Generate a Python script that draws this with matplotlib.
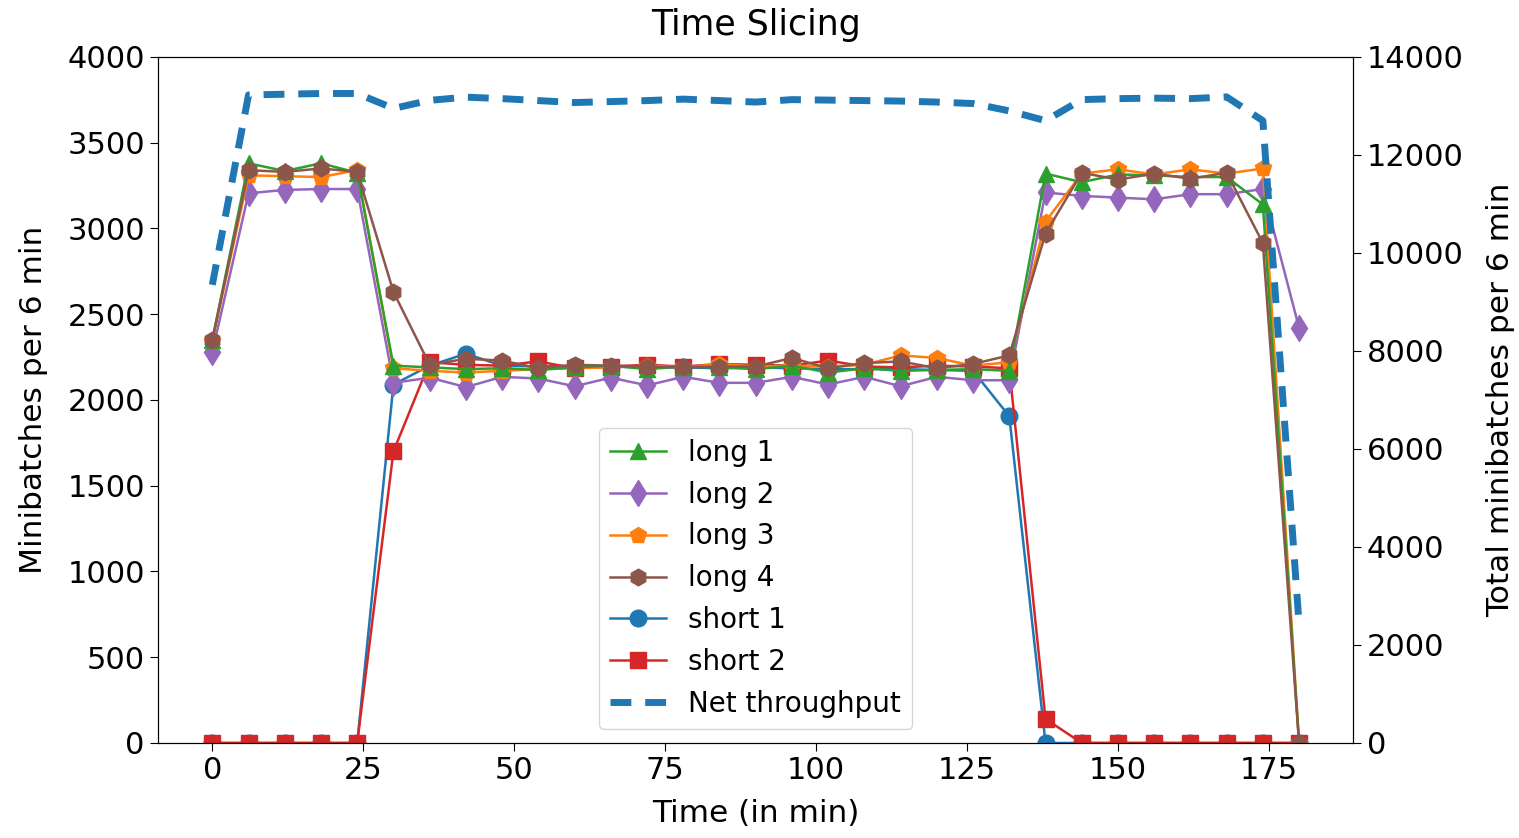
import numpy as np
import matplotlib
matplotlib.use("Agg")
import matplotlib.pyplot as plt

# time stamps (minutes), one sample every 6 min
time_min = list(range(0, 181, 6))

long1 = [2350, 3380, 3335, 3380, 3325, 2200,
         2190, 2180, 2185, 2175, 2190, 2200, 2180, 2195, 2190, 2180, 2200, 2160, 2185, 2170, 2175, 2180, 2170,
         3320, 3270, 3315, 3310, 3300, 3300, 3140, 0]
long2 = [2280, 3205, 3225, 3230, 3230, 2100,
         2130, 2075, 2135, 2125, 2080, 2130, 2085, 2135, 2100, 2100, 2135, 2090, 2135, 2080, 2135, 2115, 2115,
         3210, 3190, 3180, 3170, 3200, 3200, 3230, 2420]
long3 = [2345, 3310, 3305, 3300, 3340, 2185,
         2170, 2160, 2170, 2180, 2185, 2190, 2200, 2190, 2210, 2195, 2200, 2195, 2205, 2260, 2245, 2200, 2220,
         3040, 3320, 3345, 3315, 3345, 3320, 3350, 0]
long4 = [2350, 3340, 3330, 3350, 3330, 2630,
         2205, 2240, 2230, 2185, 2205, 2200, 2195, 2190, 2195, 2195, 2245, 2185, 2215, 2225, 2185, 2210, 2260,
         2970, 3325, 3285, 3320, 3290, 3325, 2915, 0]
short1 = [0, 0, 0, 0, 0, 2090,
          2200, 2270, 2200, 2195, 2200, 2195, 2190, 2190, 2185, 2190, 2185, 2180, 2180, 2180, 2175, 2170, 1905,
          0, 0, 0, 0, 0, 0, 0, 0]
short2 = [0, 0, 0, 0, 0, 1700,
          2220, 2205, 2200, 2225, 2185, 2195, 2205, 2195, 2210, 2205, 2200, 2230, 2195, 2190, 2200, 2195, 2185,
          140, 0, 0, 0, 0, 0, 0, 0]
net_throughput = [9350, 13225, 13240, 13255, 13255, 12950,
                  13115, 13180, 13150, 13110, 13070, 13090, 13110, 13140, 13110, 13080, 13130, 13120, 13110,
                  13100, 13080, 13050, 12900,
                  12700, 13130, 13150, 13160, 13150, 13185, 12700, 2420]

plt.rcParams["font.family"] = ["DejaVu Sans"]

fig = plt.figure(figsize=(15.19, 8.38), dpi=100)
ax = fig.add_axes([0.104, 0.1134, 0.787, 0.8186])
ax2 = ax.twinx()

lw = 1.8
ms = 12
h_s1, = ax.plot(time_min, short1, color="tab:blue", marker="o", lw=lw, ms=ms, label="short 1")
h_s2, = ax.plot(time_min, short2, color="tab:red", marker="s", lw=lw, ms=ms, label="short 2")
h_l2, = ax.plot(time_min, long2, color="tab:purple", marker="d", lw=lw, ms=ms + 1, label="long 2")
h_l3, = ax.plot(time_min, long3, color="tab:orange", marker="p", lw=lw, ms=ms, label="long 3")
h_l1, = ax.plot(time_min, long1, color="tab:green", marker="^", lw=lw, ms=ms, label="long 1")
h_l4, = ax.plot(time_min, long4, color="tab:brown", marker="h", lw=lw, ms=ms, label="long 4")

h_net, = ax2.plot(time_min, net_throughput, color="tab:blue", linestyle="--", dashes=(3.0, 2.0),
                  lw=5, label="Net throughput")

ax.set_ylim(0, 4000)
ax2.set_ylim(0, 14000)
ax.set_xlim(-9, 189)
ax.set_xticks([0, 25, 50, 75, 100, 125, 150, 175])

fs = 22
ax.tick_params(labelsize=fs, length=6)
ax2.tick_params(labelsize=fs, length=6)
ax.set_xlabel("Time (in min)", fontsize=22.5, labelpad=10)
ax.set_ylabel("Minibatches per 6 min", fontsize=22.5, labelpad=14)
ax2.set_ylabel("Total minibatches per 6 min", fontsize=22.5, labelpad=16)
ax.set_title("Time Slicing", fontsize=25, pad=16)

ax2.legend(handles=[h_l1, h_l2, h_l3, h_l4, h_s1, h_s2, h_net],
           loc="lower center", fontsize=20)

fig.savefig("out.png", dpi=100)
